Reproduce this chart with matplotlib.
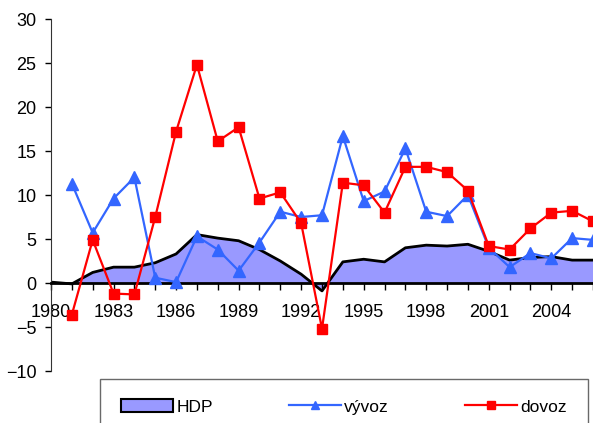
import matplotlib
matplotlib.use('Agg')
import matplotlib.pyplot as plt
import numpy as np

plt.rcParams['font.family'] = ['Liberation Sans', 'DejaVu Sans']

years = list(range(1980, 2007))
hdp = [0.1, -0.1, 1.2, 1.8, 1.8, 2.3, 3.3, 5.5, 5.1, 4.8, 3.8, 2.5, 1.0, -0.9,
       2.4, 2.7, 2.4, 4.0, 4.3, 4.2, 4.4, 3.6, 2.6, 2.9, 3.0, 2.6, 2.6]
vyvoz_years = years[1:]
vyvoz = [11.3, 5.7, 9.6, 12.0, 0.6, 0.1, 5.3, 3.8, 1.4, 4.6, 8.1, 7.5, 7.7,
         16.7, 9.3, 10.4, 15.3, 8.1, 7.6, 10.0, 4.0, 1.8, 3.4, 2.8, 5.1, 4.9]
dovoz_years = years[1:]
dovoz = [-3.6, 4.9, -1.2, -1.3, 7.5, 17.2, 24.8, 16.1, 17.7, 9.6, 10.3, 6.8, -5.2,
         11.4, 11.1, 8.0, 13.2, 13.2, 12.6, 10.5, 4.2, 3.8, 6.2, 8.0, 8.2, 7.0]
tick_years = list(range(1980, 2005, 3))

fig = plt.figure(figsize=(5.93, 4.23), dpi=100)
ax = fig.add_axes([51/593, 52/423, 1 - 51/593, 352/423])

ax.fill_between(years, hdp, 0, facecolor='#9999FF', edgecolor='none', zorder=1)
ax.plot(years, hdp, color='black', lw=2, zorder=2)
ax.plot(vyvoz_years, vyvoz, color='#3366FF', lw=1.6, marker='^', ms=8, zorder=3)
ax.plot(dovoz_years, dovoz, color='#FF0000', lw=1.6, marker='s', ms=7.5, zorder=4)

ax.set_xlim(1980, 1980 + 542/21)
ax.set_ylim(-10, 30)
ax.set_yticks(range(-10, 31, 5))
ax.set_xticks(tick_years)
ax.set_xticks(years, minor=True)
ax.spines['top'].set_visible(False)
ax.spines['right'].set_visible(False)
ax.spines['bottom'].set_position(('data', 0))
ax.spines['bottom'].set_linewidth(2)
ax.spines['bottom'].set_zorder(2.5)
ax.spines['left'].set_color('#333333')
ax.tick_params(axis='x', which='both', direction='out', length=5, width=1, pad=10, labelsize=13)
ax.tick_params(axis='y', direction='out', length=4.5, width=1, pad=6, labelsize=13)

from matplotlib.patches import Patch
from matplotlib.lines import Line2D
handles = [Patch(facecolor='#9999FF', edgecolor='black', lw=1.5),
           Line2D([], [], color='#3366FF', lw=1.6, marker='^', ms=6),
           Line2D([], [], color='#FF0000', lw=1.6, marker='s', ms=6)]
leg = fig.legend(handles, ['HDP', 'vývoz', 'dovoz'], loc='upper left',
                 bbox_to_anchor=(100/593, 1 - 379/423, 488/593, 0.001),
                 mode='expand', ncol=3, fontsize=12.5, frameon=True, fancybox=False,
                 edgecolor='#444444', handlelength=3, handletextpad=0.2,
                 borderpad=1.2, borderaxespad=0)
leg.get_frame().set_linewidth(1)

fig.savefig('out.png', dpi=100)
